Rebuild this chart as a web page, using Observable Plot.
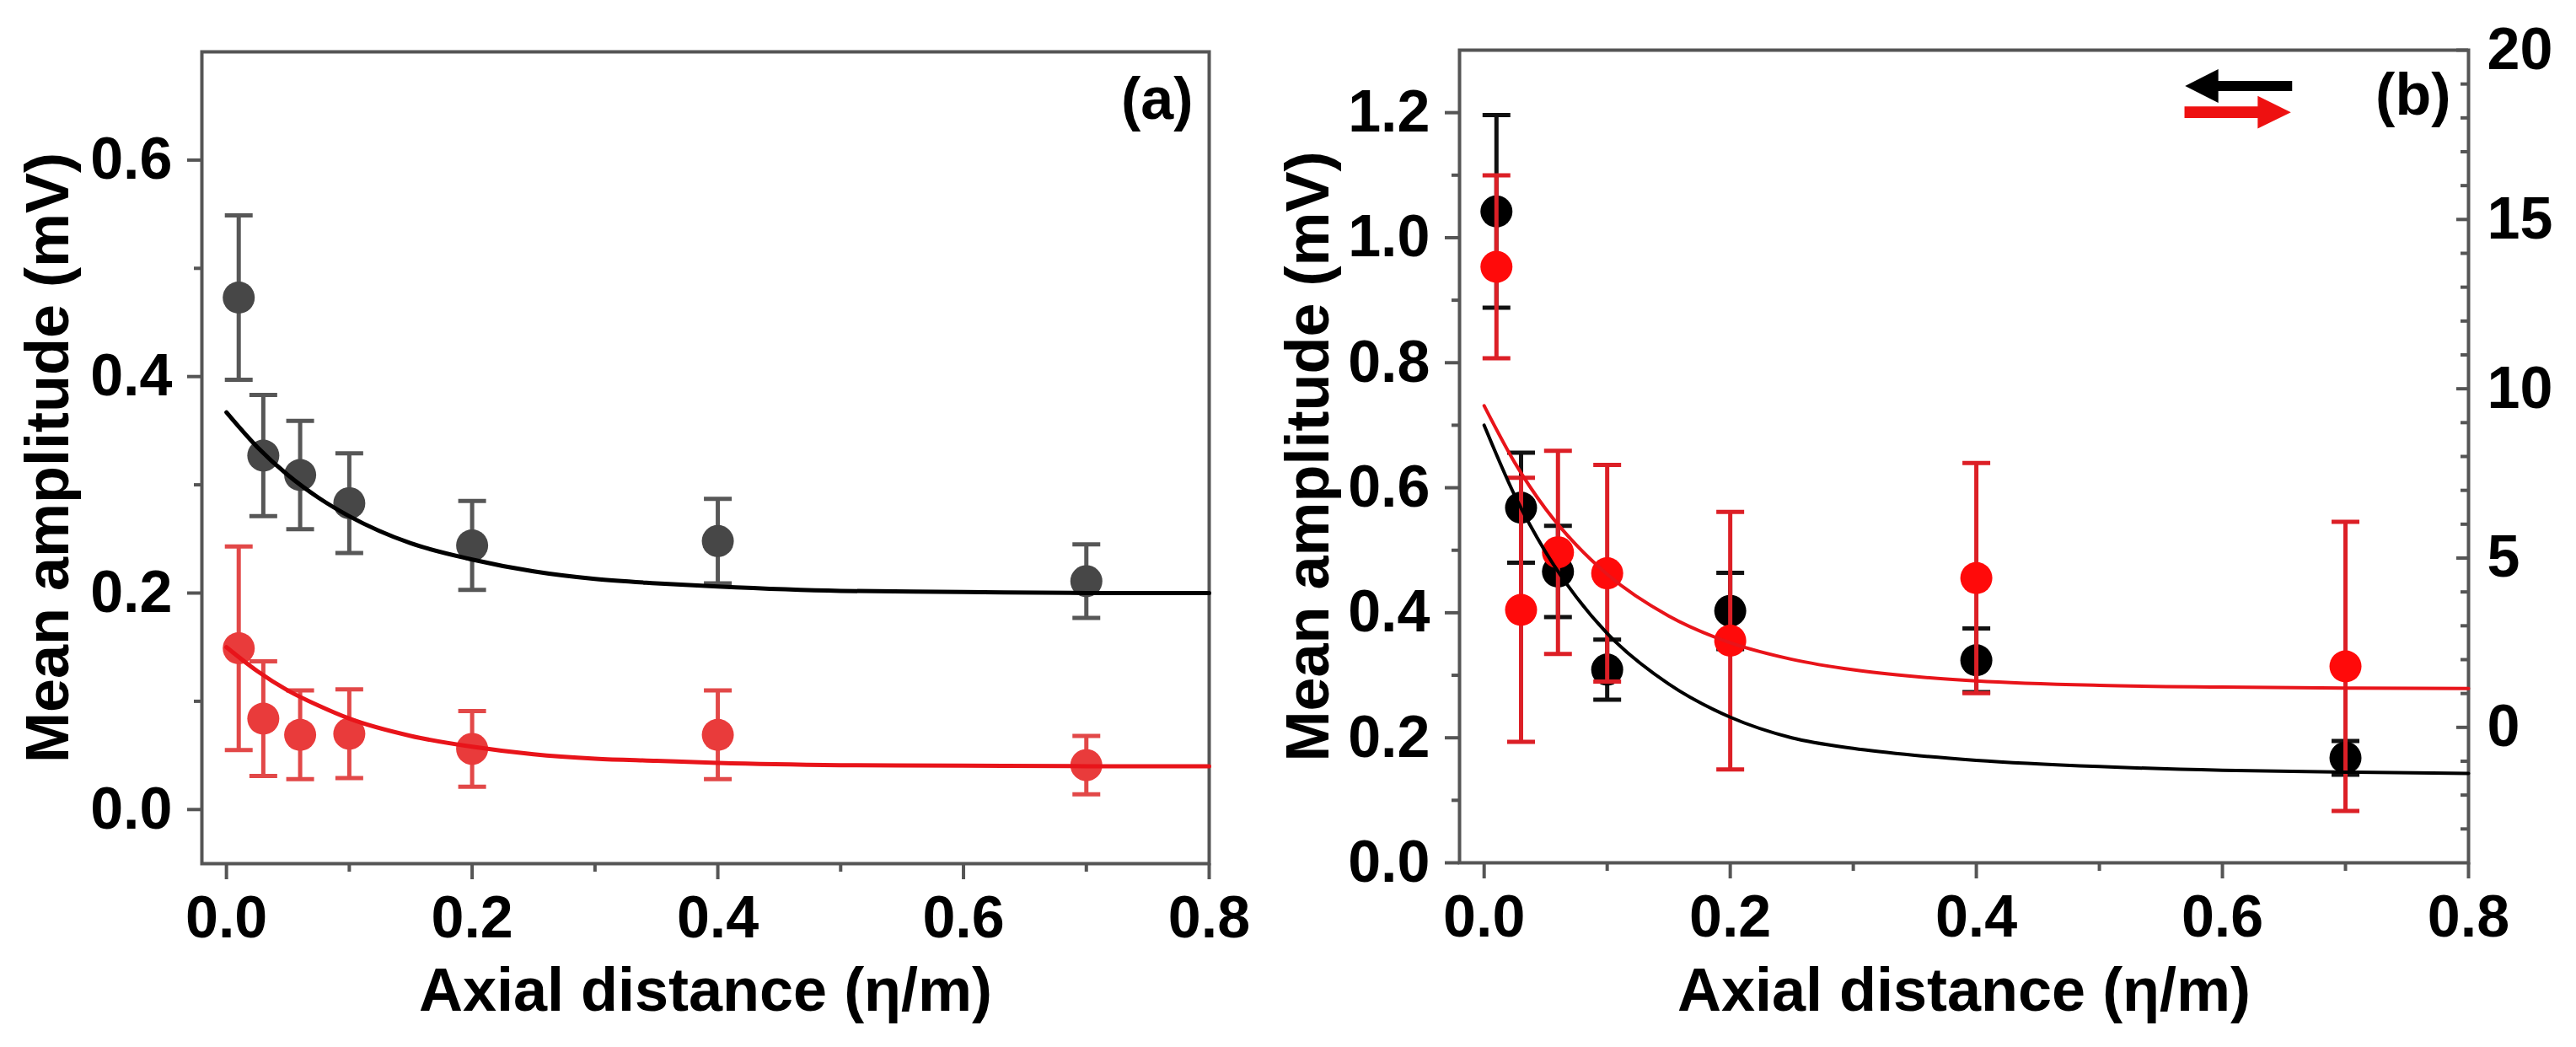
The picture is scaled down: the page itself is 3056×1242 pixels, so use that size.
<!DOCTYPE html>
<html>
<head>
<meta charset="utf-8">
<script src="https://cdn.jsdelivr.net/npm/d3@7"></script>
<script src="https://cdn.jsdelivr.net/npm/@observablehq/plot@0.6"></script>
<style>
html, body { margin: 0; padding: 0; background: #fff; }
#wrap { position: relative; width: 3056px; height: 1242px; overflow: hidden; background: #fff; }
#wrap svg { position: absolute; top: 0; }
</style>
</head>
<body>
<div id="wrap"></div>
<script>
// ---------- data ----------
const distance = [0.01, 0.03, 0.06, 0.1, 0.2, 0.4, 0.7];

// panel (a)
const blackA    = [0.473, 0.327, 0.309, 0.283, 0.244, 0.248, 0.211];
const blackAErr = [0.076, 0.056, 0.050, 0.046, 0.041, 0.039, 0.034];
const redA      = [0.149, 0.084, 0.069, 0.070, 0.056, 0.069, 0.041];
const redAErr   = [0.094, 0.053, 0.041, 0.041, 0.035, 0.041, 0.027];

// fitted curves
const fitX      = [0, 0.025, 0.05, 0.075, 0.1, 0.15, 0.2, 0.25, 0.3, 0.35, 0.4, 0.5, 0.6, 0.7, 0.8];
const fitBlackA = [0.367, 0.335, 0.309, 0.288, 0.271, 0.246, 0.231, 0.220, 0.213, 0.209, 0.206, 0.202, 0.201, 0.200, 0.200];
const fitRedA   = [0.150, 0.128, 0.110, 0.096, 0.084, 0.068, 0.058, 0.051, 0.047, 0.045, 0.043, 0.041, 0.0405, 0.040, 0.040];

// panel (b): black on left axis (mV), red on right axis
const blackB    = [1.042, 0.568, 0.466, 0.309, 0.403, 0.324, 0.168];
const blackBErr = [0.154, 0.088, 0.073, 0.048, 0.061, 0.051, 0.027];
const redB      = [13.6, 3.47, 5.17, 4.55, 2.56, 4.41, 1.80];
const redBErr   = [2.7, 3.9, 3.0, 3.2, 3.8, 3.4, 4.27];
const fitBlackB = [0.700, 0.587, 0.497, 0.425, 0.367, 0.286, 0.233, 0.200, 0.183, 0.172, 0.164, 0.154, 0.148, 0.145, 0.143];
const fitRedB   = [9.5, 7.81, 6.45, 5.38, 4.52, 3.29, 2.50, 2.01, 1.70, 1.50, 1.37, 1.24, 1.19, 1.16, 1.15];

// axes
const xDomain  = [-0.02, 0.8];
const yDomainA = [-0.05, 0.7];
const yDomainB = [0, 1.3];
const rDomainB = [-4, 20];
const xMajor   = [0, 0.2, 0.4, 0.6, 0.8];
const xMinor   = [0.1, 0.3, 0.5, 0.7];
const yMajorA  = [0, 0.2, 0.4, 0.6];
const yMinorA  = [0.1, 0.3, 0.5];
const yMajorB  = [0, 0.2, 0.4, 0.6, 0.8, 1.0, 1.2];
const yMinorB  = [0.1, 0.3, 0.5, 0.7, 0.9, 1.1];
const rMajorB  = [0, 5, 10, 15, 20];
const rMinorB  = [-3, -2, -1, 1, 2, 3, 4, 6, 7, 8, 9, 11, 12, 13, 14, 16, 17, 18, 19];

const xTitle = "Axial distance (η/m)";
const yTitle = "Mean amplitude (mV)";

// ---------- helpers ----------
const FONT = "'Liberation Sans', Arial, Helvetica, sans-serif";
const AXIS = "#555555";
const fmt1 = d3.format(".1f");
const toLeft  = r => (r - rDomainB[0]) / (rDomainB[1] - rDomainB[0]) * (yDomainB[1] - yDomainB[0]) + yDomainB[0];
const toRight = v => (v - yDomainB[0]) / (yDomainB[1] - yDomainB[0]) * (rDomainB[1] - rDomainB[0]) + rDomainB[0];
const scaleErr = e => e / (rDomainB[1] - rDomainB[0]) * (yDomainB[1] - yDomainB[0]);

const capSymbol = {
  draw(ctx, size) {
    const w = Math.sqrt(size / Math.PI);
    ctx.moveTo(-w, 0);
    ctx.lineTo(w, 0);
  }
};

const rows = (xs, ys, es, f = v => v, fe = v => v) =>
  xs.map((x, i) => ({x, y: f(ys[i]), e: es ? fe(es[i]) : 0}));

function seriesMarks(data, {dot, bar, barWidth = 5, r = 19, capR = 16.5}) {
  return [
    Plot.ruleX(data, {x: "x", y1: d => d.y - d.e, y2: d => d.y + d.e, stroke: bar, strokeWidth: barWidth}),
    Plot.dot(data, {x: "x", y: d => d.y + d.e, r: capR, symbol: capSymbol, stroke: bar, strokeWidth: barWidth, fill: "none"}),
    Plot.dot(data, {x: "x", y: d => d.y - d.e, r: capR, symbol: capSymbol, stroke: bar, strokeWidth: barWidth, fill: "none"}),
    Plot.dot(data, {x: "x", y: "y", r, fill: dot, stroke: "none"})
  ];
}

function commonAxes(yMajor, yMinor) {
  return [
    Plot.axisX({ticks: xMajor, tickSize: 19, tickPadding: 19, tickFormat: fmt1, stroke: AXIS, strokeWidth: 4, fill: "#000", fontSize: 70, fontWeight: "bold", label: null}),
    Plot.axisX({ticks: xMinor, tickSize: 10, tickFormat: () => "", stroke: AXIS, strokeWidth: 4, label: null}),
    Plot.axisY({ticks: yMajor, tickSize: 17, tickPadding: 18, tickFormat: fmt1, stroke: AXIS, strokeWidth: 4, fill: "#000", fontSize: 70, fontWeight: "bold", label: null}),
    Plot.axisY({ticks: yMinor, tickSize: 9, tickFormat: () => "", stroke: AXIS, strokeWidth: 4, label: null}),
    Plot.frame({stroke: AXIS, strokeWidth: 4})
  ];
}

function titles(panel, labelDx, labelDy, xDy, yDx) {
  return [
    Plot.text([panel], {text: d => d, frameAnchor: "top-right", textAnchor: "end", lineAnchor: "bottom", dx: labelDx, dy: labelDy, fontSize: 70, fontWeight: "bold", fill: "#000"}),
    Plot.text([xTitle], {text: d => d, frameAnchor: "bottom", textAnchor: "middle", lineAnchor: "bottom", dy: xDy, fontSize: 72, fontWeight: "bold", fill: "#000"}),
    Plot.text([yTitle], {text: d => d, frameAnchor: "left", textAnchor: "middle", rotate: -90, lineAnchor: "bottom", dx: yDx, fontSize: 72, fontWeight: "bold", fill: "#000"})
  ];
}

const style = {fontFamily: FONT, fontWeight: "bold", fontSize: "70px", color: "#000", background: "transparent", overflow: "visible"};

// ---------- panel (a) ----------
const plotA = Plot.plot({
  width: 1528, height: 1242,
  marginLeft: 239, marginRight: 94, marginTop: 61, marginBottom: 218,
  style,
  x: {domain: xDomain, axis: null},
  y: {domain: yDomainA, axis: null},
  marks: [
    ...commonAxes(yMajorA, yMinorA),
    ...seriesMarks(rows(distance, blackA, blackAErr), {dot: "#474747", bar: "#575757"}),
    ...seriesMarks(rows(distance, redA, redAErr), {dot: "#e93b3b", bar: "#e24848"}),
    Plot.line(rows(fitX, fitBlackA), {x: "x", y: "y", stroke: "#000", strokeWidth: 5, curve: "monotone-x"}),
    Plot.line(rows(fitX, fitRedA), {x: "x", y: "y", stroke: "#e8141a", strokeWidth: 5, curve: "monotone-x"}),
    ...titles("(a)", -19, 79, 174, -159)
  ]
});
plotA.style.left = "0px";

// legend arrows for panel (b), in panel (b) data units (left axis)
const arrowSpec = [
  {color: "#000000", dir: -1, x0: 0.570, x1: 0.657, xHead: 0.597, y: 1.242, head: 0.027, shaft: 0.0082},
  {color: "#ee1111", dir: 1,  x0: 0.5695, x1: 0.656, xHead: 0.629, y: 1.200, head: 0.026, shaft: 0.0092}
];
function arrowPolygon(a) {
  if (a.dir < 0) {
    return [
      {x: a.x0, y1: a.y, y2: a.y},
      {x: a.xHead, y1: a.y - a.head, y2: a.y + a.head},
      {x: a.xHead, y1: a.y - a.shaft, y2: a.y + a.shaft},
      {x: a.x1, y1: a.y - a.shaft, y2: a.y + a.shaft}
    ];
  }
  return [
    {x: a.x0, y1: a.y - a.shaft, y2: a.y + a.shaft},
    {x: a.xHead, y1: a.y - a.shaft, y2: a.y + a.shaft},
    {x: a.xHead, y1: a.y - a.head, y2: a.y + a.head},
    {x: a.x1, y1: a.y, y2: a.y}
  ];
}

// ---------- panel (b) ----------
const plotB = Plot.plot({
  width: 1528, height: 1242,
  marginLeft: 203, marginRight: 128, marginTop: 59, marginBottom: 219,
  style,
  x: {domain: xDomain, axis: null},
  y: {domain: yDomainB, axis: null},
  marks: [
    ...commonAxes(yMajorB, yMinorB),
    // right axis: inward ticks + labels
    Plot.axisY({anchor: "left", frameAnchor: "right", ticks: rMajorB.map(toLeft), tickSize: 14, tickFormat: () => "", stroke: AXIS, strokeWidth: 4, label: null}),
    Plot.axisY({anchor: "left", frameAnchor: "right", ticks: rMinorB.map(toLeft), tickSize: 9, tickFormat: () => "", stroke: AXIS, strokeWidth: 4, label: null}),
    Plot.axisY({anchor: "right", ticks: rMajorB.map(toLeft), tickSize: 0, tickPadding: 22, tickFormat: v => String(Math.round(toRight(v))), fill: "#000", fontSize: 70, fontWeight: "bold", label: null}),
    ...seriesMarks(rows(distance, blackB, blackBErr), {dot: "#000000", bar: "#111111"}),
    ...seriesMarks(rows(distance, redB, redBErr, toLeft, scaleErr), {dot: "#ff0a0a", bar: "#dc1f26"}),
    Plot.line(rows(fitX, fitBlackB), {x: "x", y: "y", stroke: "#000", strokeWidth: 4, curve: "monotone-x"}),
    Plot.line(rows(fitX, fitRedB, null, toLeft), {x: "x", y: "y", stroke: "#e8141a", strokeWidth: 4, curve: "monotone-x"}),
    ...arrowSpec.map(a => Plot.areaY(arrowPolygon(a), {x: "x", y1: "y1", y2: "y2", fill: a.color, curve: "linear"})),
    ...titles("(b)", -21, 76, 175, -156)
  ]
});
plotB.style.left = "1528px";

const wrap = document.getElementById("wrap");
wrap.appendChild(plotA);
wrap.appendChild(plotB);
</script>
</body>
</html>
